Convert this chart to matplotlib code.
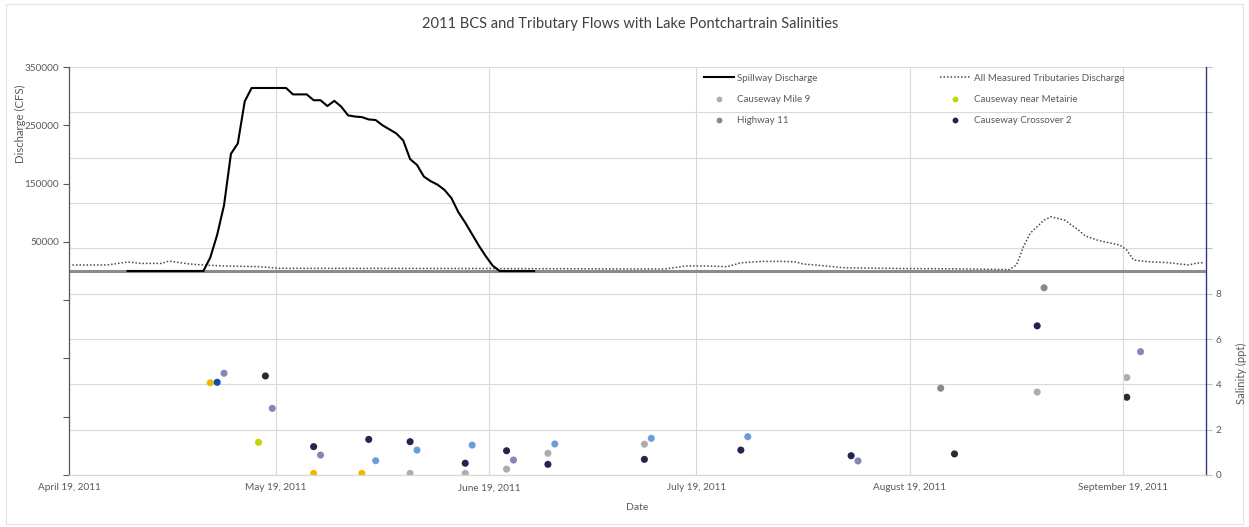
import matplotlib
matplotlib.use("Agg")
import matplotlib.pyplot as plt
import matplotlib.dates as mdates
from matplotlib.lines import Line2D
from matplotlib.ticker import FixedLocator, FuncFormatter
from matplotlib.patches import Rectangle
import numpy as np
import pandas as pd

plt.rcParams['font.family'] = ['Lato', 'DejaVu Sans']

# ---------------------------------------------------------------- data
x_start = "2011-04-19"
x_end = "2011-10-01"

# Bonnet Carre Spillway daily discharge (cfs)
spillway_dates = pd.date_range("2011-04-27", "2011-06-25", freq="D")
spillway_cfs = [
    0, 0, 0, 0, 0, 0, 0, 0, 0, 0, 0, 0,                       # Apr 27 - May 8
    23000, 62000, 113000, 201000, 219000, 291000, 314000,      # May 9 - May 15
    314000, 314000, 314000, 314000, 314000,                    # May 16 - May 20
    303000, 303000, 303000, 293000, 293000, 283000, 292000,    # May 21 - May 27
    282000, 267000, 265000, 264000,                            # May 28 - May 31
    260000, 259000, 250000, 243000, 236000, 224000, 192000,    # Jun 1 - Jun 7
    182000, 162000, 154000, 148000, 139000, 125000, 101000,    # Jun 8 - Jun 14
    83000, 63000, 43000, 25000, 9000, 0,                       # Jun 15 - Jun 20
    0, 0, 0, 0, 0,                                             # Jun 21 - Jun 25
]

# Sum of all gauged tributaries (cfs)
trib_dates = [
    "2011-04-19", "2011-04-24", "2011-04-27", "2011-04-29", "2011-05-02",
    "2011-05-03", "2011-05-06", "2011-05-08", "2011-05-11", "2011-05-16",
    "2011-05-19", "2011-06-17", "2011-07-14", "2011-07-17", "2011-07-20",
    "2011-07-23", "2011-07-25", "2011-07-28", "2011-07-31", "2011-08-02",
    "2011-08-03", "2011-08-06", "2011-08-09", "2011-08-17", "2011-08-25",
    "2011-09-02", "2011-09-03", "2011-09-04", "2011-09-05", "2011-09-07",
    "2011-09-08", "2011-09-10", "2011-09-12", "2011-09-13", "2011-09-15",
    "2011-09-18", "2011-09-19", "2011-09-20", "2011-09-22", "2011-09-25",
    "2011-09-28", "2011-09-29", "2011-09-30",
]
trib_cfs = [
    10300, 10300, 15400, 13000, 13000,
    17100, 12000, 10300, 8600, 7500,
    4600, 4300, 3400, 8600, 8600,
    7400, 14000, 16500, 16500, 15500,
    12000, 9000, 5500, 4300, 3800,
    2500, 10300, 41600, 65000, 87300,
    93000, 87300, 70200, 60000, 52000,
    44500, 36000, 18800, 16000, 14300,
    10300, 13200, 14300,
]

# Lake Pontchartrain salinity samples (ppt)
mile9_dates = ["2011-06-07", "2011-06-15", "2011-06-21", "2011-06-27",
               "2011-07-11", "2011-09-06", "2011-09-19"]
mile9_ppt = [0.07, 0.07, 0.26, 0.96, 1.36, 3.66, 4.30]

metairie_dates = ["2011-05-16"]
metairie_ppt = [1.44]

hwy11_dates = ["2011-08-23", "2011-09-07"]
hwy11_ppt = [3.83, 8.26]

crossover2_dates = ["2011-05-24", "2011-06-01", "2011-06-07", "2011-06-15",
                    "2011-06-21", "2011-06-27", "2011-07-11", "2011-07-25",
                    "2011-08-10", "2011-09-06"]
crossover2_ppt = [1.25, 1.57, 1.47, 0.52, 1.07, 0.47, 0.69, 1.10, 0.85, 6.58]

yellow_dates = ["2011-05-09", "2011-05-24", "2011-05-31"]
yellow_ppt = [4.07, 0.07, 0.07]

blue_dates = ["2011-05-10"]
blue_ppt = [4.09]

periwinkle_dates = ["2011-05-11", "2011-05-18", "2011-05-25", "2011-06-22",
                    "2011-08-11", "2011-09-21"]
periwinkle_ppt = [4.49, 2.94, 0.88, 0.66, 0.62, 5.44]

black_dates = ["2011-05-17", "2011-08-25", "2011-09-19"]
black_ppt = [4.37, 0.93, 3.43]

lightblue_dates = ["2011-06-02", "2011-06-08", "2011-06-16", "2011-06-28",
                   "2011-07-12", "2011-07-26"]
lightblue_ppt = [0.63, 1.10, 1.32, 1.37, 1.62, 1.69]

discharge_ticks = np.arange(-350000, 350001, 100000)
salinity_ticks = np.arange(0, 19, 2)

# ---------------------------------------------------------------- figure
W, H = 1249, 527
fig = plt.figure(figsize=(W / 100, H / 100), dpi=100)
fig.patch.set_facecolor("white")
fig.add_artist(Rectangle((6 / W, 3 / H), 1237 / W, 520 / H, transform=fig.transFigure,
                         fill=False, edgecolor="#e4e4e4", lw=0.8))

ax = fig.add_axes([69 / W, 1 - 475 / H, (1206 - 69) / W, (475 - 67) / H])
ax2 = ax.twinx()
ax2.set_zorder(0)
ax.set_zorder(1)
ax.patch.set_visible(False)
ax2.patch.set_visible(True)
ax2.patch.set_facecolor("white")

half_day = pd.Timedelta(hours=12)
TXT = "#595959"
GRID = "#d9d9d9"
TRIB_STYLE = dict(color="#4a4a4a", lw=1.1, ls=(0, (1, 1.3)))

# discharge lines
ax.axhline(0, color="#8c8c8c", lw=2.2, zorder=2)
ax.plot(pd.to_datetime(trib_dates) + half_day, trib_cfs, zorder=3, **TRIB_STYLE)
ax.plot(spillway_dates + half_day, spillway_cfs, color="black", lw=1.5, zorder=4)

# salinity markers
def dots(dates, vals, color):
    ax2.scatter(pd.to_datetime(dates) + half_day, vals, s=26, color=color,
                edgecolors="none", zorder=3)

dots(mile9_dates, mile9_ppt, "#adadad")
dots(hwy11_dates, hwy11_ppt, "#8a8a8a")
dots(yellow_dates, yellow_ppt, "#f2b700")
dots(metairie_dates, metairie_ppt, "#c3d600")
dots(blue_dates, blue_ppt, "#0b4fa6")
dots(periwinkle_dates, periwinkle_ppt, "#8587b9")
dots(lightblue_dates, lightblue_ppt, "#6c9ed6")
dots(black_dates, black_ppt, "#2b2b2b")
dots(crossover2_dates, crossover2_ppt, "#24244f")

# x axis
ax.set_xlim(pd.Timestamp(x_start), pd.Timestamp(x_end))
ax.xaxis.set_major_locator(mdates.MonthLocator(bymonthday=19))
ax.xaxis.set_major_formatter(FuncFormatter(
    lambda v, p: mdates.num2date(v).strftime("%B %-d, %Y")))
ax.tick_params(axis="x", length=0, pad=6, labelsize=7.2, labelcolor=TXT)
ax.grid(axis="x", color=GRID, lw=0.8)

# left axis: discharge
ax.set_ylim(-350000, 350000)
ax.yaxis.set_major_locator(FixedLocator(discharge_ticks))
ax.yaxis.set_major_formatter(FuncFormatter(lambda v, p: f"{v:.0f}" if v > 0 else ""))
ax.tick_params(axis="y", length=4, width=0.8, color=TXT, labelsize=7.2,
               labelcolor=TXT, pad=3)
for side in ("top", "right"):
    ax.spines[side].set_visible(False)
ax.spines["left"].set_color("#595959")
ax.spines["left"].set_linewidth(0.9)
ax.spines["bottom"].set_color(GRID)
ax.spines["bottom"].set_linewidth(0.9)

# right axis: salinity
ax2.set_ylim(0, 18)
ax2.yaxis.set_major_locator(FixedLocator(salinity_ticks))
ax2.yaxis.set_major_formatter(FuncFormatter(lambda v, p: f"{v:.0f}" if v <= 8 else ""))
ax2.tick_params(axis="y", length=4, width=0.8, color="#bfbfbf", labelsize=7.2,
                labelcolor=TXT, pad=3)
ax2.grid(axis="y", color=GRID, lw=0.8)
for side in ("top", "left", "bottom"):
    ax2.spines[side].set_visible(False)
ax2.spines["right"].set_color("#2f3a86")
ax2.spines["right"].set_linewidth(1.0)

# titles and axis labels
fig.text(630 / W, 1 - 24 / H, "2011 BCS and Tributary Flows with Lake Pontchartrain Salinities",
         ha="center", va="center", fontsize=10.5, color="#404040")
fig.text(20 / W, 1 - 124 / H, "Discharge (CFS)", rotation=90, ha="center", va="center",
         fontsize=8.2, color=TXT)
fig.text(1241 / W, 1 - 373 / H, "Salinity (ppt)", rotation=90, ha="center", va="center",
         fontsize=8.0, color=TXT)
fig.text(637 / W, 1 - 507 / H, "Date", ha="center", va="center", fontsize=7.5, color=TXT)

# legend
def mk(color):
    return Line2D([], [], ls="none", marker="o", markersize=4.2, color=color,
                  markeredgecolor="none")

handles = [
    Line2D([], [], color="black", lw=1.5),
    mk("#adadad"),
    mk("#8a8a8a"),
    Line2D([], [], **TRIB_STYLE),
    mk("#c3d600"),
    mk("#24244f"),
]
labels = ["Spillway Discharge", "Causeway Mile 9", "Highway 11",
          "All Measured Tributaries Discharge", "Causeway near Metairie",
          "Causeway Crossover 2"]
leg = fig.legend(handles, labels, ncol=2, loc="upper left",
                 bbox_to_anchor=(696 / W, 1 - 66 / H), fontsize=7.0,
                 frameon=False, handlelength=3.1, handletextpad=0.35,
                 columnspacing=12.6, labelspacing=1.25, borderpad=0.3)
for t in leg.get_texts():
    t.set_color(TXT)

fig.savefig("out.png", dpi=100)
